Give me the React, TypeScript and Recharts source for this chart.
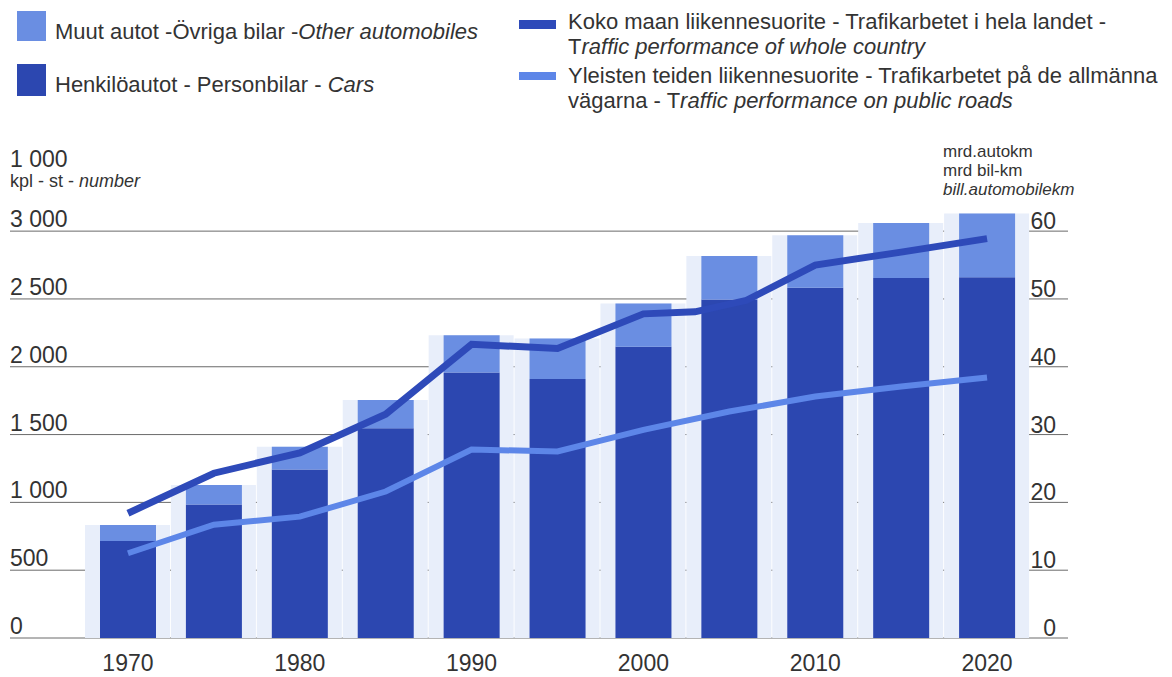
import { Bar, CartesianGrid, ComposedChart, Line, XAxis, YAxis } from 'recharts';

// vehicle stock, thousands
const YEARS = [1970, 1975, 1980, 1985, 1990, 1995, 2000, 2005, 2010, 2015, 2020];
const CARS = [715, 985, 1243, 1546, 1958, 1909, 2147, 2496, 2582, 2655, 2660];
const OTHERS = [118, 143, 167, 208, 275, 300, 320, 320, 388, 405, 470];

// traffic performance, bill. km
const WHOLE_YEARS = [1970, 1975, 1980, 1985, 1990, 1995, 2000, 2003, 2006, 2010, 2015, 2020];
const WHOLE_KM = [18.4, 24.3, 27.3, 33.0, 43.3, 42.7, 47.8, 48.1, 49.8, 55.0, 56.9, 58.9];
const PUBLIC_YEARS = [1970, 1975, 1980, 1985, 1990, 1995, 2000, 2005, 2010, 2015, 2020];
const PUBLIC_KM = [12.5, 16.7, 17.9, 21.6, 27.8, 27.5, 30.7, 33.4, 35.6, 37.1, 38.4];

const LEFT_TICKS = [0, 500, 1000, 1500, 2000, 2500, 3000];
const RIGHT_TICKS = [0, 10, 20, 30, 40, 50, 60];

const CARS_COLOR = '#2c47b0';
const OTHERS_COLOR = '#6a8ee2';
const BG_COLOR = '#e8eefa';
const WHOLE_COLOR = '#2e4ab9';
const PUBLIC_COLOR = '#5d86e8';
const INK = '#333';
const GRID = '#6a6a6a';
const FONT = "'Liberation Sans', Arial, Helvetica, sans-serif";

const W = 1172;
const H = 677;
const PLOT_LEFT = 10;
const PLOT_RIGHT = 1068;
const YEAR_BASELINE = 671;
const PAD = { left: 75, right: 38 };

const barData = YEARS.map((year, i) => ({
  year,
  cars: CARS[i],
  others: OTHERS[i],
  total: CARS[i] + OTHERS[i],
}));
const wholeData = WHOLE_YEARS.map((year, i) => ({ year, km: WHOLE_KM[i] }));
const publicData = PUBLIC_YEARS.map((year, i) => ({ year, km: PUBLIC_KM[i] }));

function fmtThousands(v: number) {
  if (v < 1000) return String(v);
  return `${Math.floor(v / 1000)} ${String(v % 1000).padStart(3, '0')}`;
}

function LeftTick({ y, payload }: any) {
  return (
    <text x={PLOT_LEFT} y={y - 4} fontSize={23} fill={INK} fontFamily={FONT}>
      {fmtThousands(payload.value)}
    </text>
  );
}

function RightTick({ y, payload }: any) {
  return (
    <text x={1056} y={y - 2} fontSize={23} fill={INK} fontFamily={FONT} textAnchor="end">
      {payload.value}
    </text>
  );
}

// the axis passes its own text y; the baseline is pinned just above the page edge
function YearTick({ x, payload }: any) {
  return (
    <text x={x} y={YEAR_BASELINE} fontSize={23} fill={INK} fontFamily={FONT} textAnchor="middle">
      {payload.value}
    </text>
  );
}

function Labels() {
  return (
    <svg
      width={W}
      height={H}
      style={{ position: 'absolute', left: 0, top: 0, pointerEvents: 'none' }}
      fontFamily={FONT}
      fill={INK}
    >
      <rect x={17} y={11} width={29} height={30} fill={OTHERS_COLOR} />
      <text x={55} y={39} fontSize={22}>
        Muut autot  -Övriga bilar -<tspan fontStyle="italic">Other automobiles</tspan>
      </text>
      <rect x={17} y={64} width={29} height={32} fill={CARS_COLOR} />
      <text x={55} y={92} fontSize={22}>
        Henkilöautot - Personbilar - <tspan fontStyle="italic">Cars</tspan>
      </text>

      <rect x={519} y={20} width={37} height={9} fill={WHOLE_COLOR} />
      <text x={568} y={29} fontSize={22}>Koko maan liikennesuorite - Trafikarbetet i hela landet -</text>
      <text x={568} y={54} fontSize={22}>
        T<tspan fontStyle="italic">raffic performance of whole country</tspan>
      </text>
      <rect x={519} y={72} width={37} height={8} fill={PUBLIC_COLOR} />
      <text x={568} y={83} fontSize={22}>Yleisten teiden liikennesuorite - Trafikarbetet på de allmänna</text>
      <text x={568} y={108} fontSize={22}>
        vägarna - T<tspan fontStyle="italic">raffic performance on public roads</tspan>
      </text>

      <text x={PLOT_LEFT} y={167} fontSize={23}>1 000</text>
      <text x={PLOT_LEFT} y={187} fontSize={18}>
        kpl - st - <tspan fontStyle="italic">number</tspan>
      </text>

      <text x={943} y={157} fontSize={17}>mrd.autokm</text>
      <text x={943} y={176} fontSize={17}>mrd bil-km</text>
      <text x={943} y={195} fontSize={17} fontStyle="italic">bill.automobilekm</text>
    </svg>
  );
}

export default function App() {
  return (
    <div style={{ position: 'absolute', left: 0, top: 0, width: W, height: H, background: '#fff' }}>
      <ComposedChart
        width={W}
        height={H}
        data={barData}
        margin={{ top: 204, right: W - PLOT_RIGHT - 1, bottom: 0, left: PLOT_LEFT - 1 }}
      >
        <XAxis
          xAxisId="cat"
          dataKey="year"
          padding={PAD}
          height={39}
          axisLine={false}
          tickLine={false}
          interval={1}
          tick={<YearTick />}
        />
        <XAxis xAxisId="bg" dataKey="year" padding={PAD} hide />
        <XAxis
          xAxisId="num"
          type="number"
          dataKey="year"
          scale="linear"
          domain={[1967.5, 2022.5]}
          allowDataOverflow
          padding={PAD}
          hide
        />
        <YAxis
          yAxisId="left"
          width={1}
          domain={[0, 3200]}
          scale="linear"
          ticks={LEFT_TICKS}
          interval={0}
          axisLine={false}
          tickLine={false}
          tick={<LeftTick />}
        />
        <YAxis
          yAxisId="right"
          orientation="right"
          width={1}
          domain={[0, 64]}
          scale="linear"
          ticks={RIGHT_TICKS}
          interval={0}
          axisLine={false}
          tickLine={false}
          tick={<RightTick />}
        />
        <Bar xAxisId="bg" yAxisId="left" dataKey="total" fill={BG_COLOR} barSize={85} isAnimationActive={false} />
        <CartesianGrid xAxisId="cat" yAxisId="left" vertical={false} syncWithTicks stroke={GRID} strokeWidth={1} />
        <Bar xAxisId="cat" yAxisId="left" dataKey="cars" stackId="a" fill={CARS_COLOR} barSize={56} isAnimationActive={false} />
        <Bar xAxisId="cat" yAxisId="left" dataKey="others" stackId="a" fill={OTHERS_COLOR} barSize={56} isAnimationActive={false} />
        <Line
          xAxisId="num"
          yAxisId="right"
          data={publicData}
          dataKey="km"
          type="linear"
          stroke={PUBLIC_COLOR}
          strokeWidth={6}
          dot={false}
          activeDot={false}
          isAnimationActive={false}
        />
        <Line
          xAxisId="num"
          yAxisId="right"
          data={wholeData}
          dataKey="km"
          type="linear"
          stroke={WHOLE_COLOR}
          strokeWidth={7}
          dot={false}
          activeDot={false}
          isAnimationActive={false}
        />
      </ComposedChart>
      <Labels />
    </div>
  );
}
